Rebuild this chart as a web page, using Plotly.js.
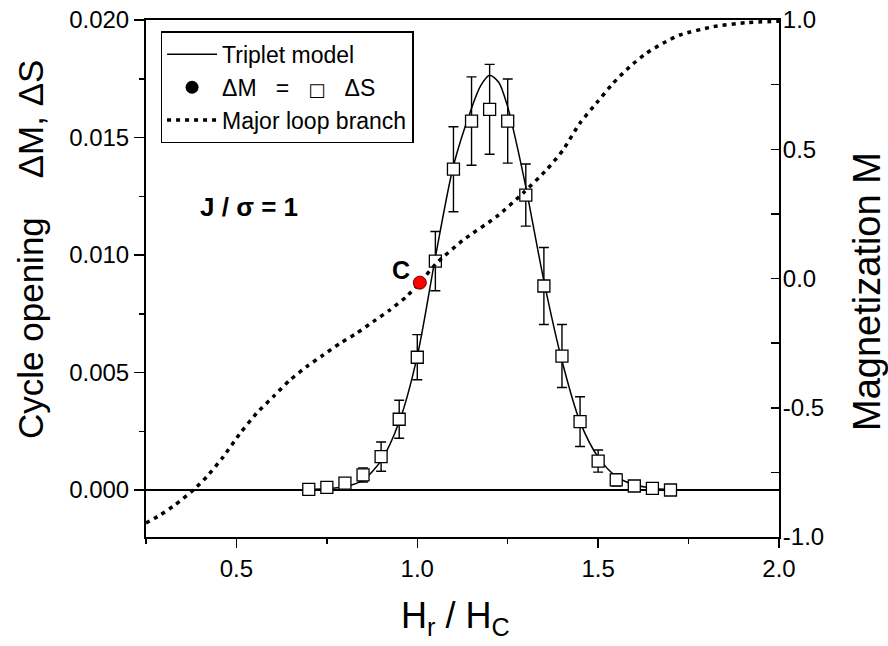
<!DOCTYPE html>
<html>
<head>
<meta charset="utf-8">
<script src="https://cdn.plot.ly/plotly-3.0.1.min.js"></script>
<style>html,body{margin:0;padding:0;background:#fff;}#chart{width:888px;height:646px;}</style>
</head>
<body>
<div id="chart"></div>
<script>
// Measured data (H_r / H_C) with cycle opening ΔM = ΔS
const dataX = [0.70,0.75,0.80,0.85,0.90,0.95,1.00,1.05,1.10,1.15,1.20,1.25,1.30,1.35,1.40,1.45,1.50,1.55,1.60,1.65,1.70];
const dataY = [0.00003,0.00011,0.00029,0.00064,0.00142,0.00301,0.00565,0.00974,0.01365,0.01570,0.01620,0.01570,0.01255,0.00868,0.00570,0.00291,0.00123,0.00043,0.00017,0.00007,0.00000];
const dataErr = [0.00017,0.00013,0.00017,0.00030,0.00062,0.00081,0.00096,0.00126,0.00181,0.00188,0.00191,0.00179,0.00132,0.00164,0.00134,0.00106,0.00047,0.00026,0.00017,0.00017,0.00010];

// Triplet model curve
const modelX = [0.70,0.75,0.80,0.85,0.90,0.95,1.00,1.05,1.10,1.15,1.175,1.20,1.225,1.25,1.275,1.30,1.35,1.40,1.45,1.50,1.55,1.60,1.65,1.70];
const modelY = [0.00002,0.00006,0.00014,0.00042,0.00125,0.00290,0.00570,0.00990,0.01380,0.01625,0.01720,0.01765,0.01735,0.01630,0.01470,0.01290,0.00890,0.00550,0.00290,0.00140,0.00058,0.00022,0.00008,0.00002];

// Major loop branch (magnetization M, right axis)
const loopX = [0.25,0.289,0.33,0.381,0.418,0.464,0.51,0.556,0.602,0.648,0.694,0.74,0.786,0.832,0.878,0.924,0.97,1.007,1.053,1.127,1.219,1.292,1.357,1.403,1.449,1.495,1.541,1.587,1.633,1.679,1.726,1.818,1.91,2.0];
const loopM = [-0.946,-0.915,-0.876,-0.818,-0.767,-0.689,-0.599,-0.521,-0.457,-0.393,-0.341,-0.296,-0.251,-0.212,-0.167,-0.122,-0.070,-0.016,0.059,0.149,0.239,0.330,0.420,0.497,0.600,0.678,0.755,0.819,0.871,0.910,0.942,0.974,0.990,0.995];

// Point C
const pointCX = [1.007];
const pointCM = [-0.016];

// Tick labels
const xTickVals = [0.5, 1.0, 1.5, 2.0];
const xTickText = ['0.5', '1.0', '1.5', '2.0'];
const yTickVals = [0, 0.005, 0.010, 0.015, 0.020];
const yTickText = ['0.000', '0.005', '0.010', '0.015', '0.020'];
const y2TickVals = [-1, -0.5, 0, 0.5, 1];
const y2TickText = ['-1.0', '-0.5', '0.0', '0.5', '1.0'];

const FONT = "Arial, 'Liberation Sans', Helvetica, sans-serif";

const traces = [
  {x: modelX, y: modelY, type: 'scatter', mode: 'lines', name: 'Triplet model',
   line: {color: 'black', width: 1.5, shape: 'spline', smoothing: 0.8}, yaxis: 'y'},
  {x: [null], y: [null], type: 'scatter', mode: 'markers',
   name: '\u0394M\u00a0\u00a0\u00a0=\u00a0\u00a0\u00a0<span style="font-family:\'DejaVu Sans\';font-size:18px;font-weight:bold;color:#000">\u25a1</span>\u00a0\u00a0\u00a0\u0394S',
   marker: {symbol: 'circle', color: 'black', size: 13}, yaxis: 'y'},
  {x: loopX, y: loopM, type: 'scatter', mode: 'lines', name: 'Major loop branch',
   line: {color: 'black', width: 3.5, dash: '4px,5px', shape: 'spline', smoothing: 0.6}, yaxis: 'y2'},
  {x: dataX, y: dataY, type: 'scatter', mode: 'markers', showlegend: false,
   marker: {symbol: 'square', size: 12, color: 'white', line: {color: 'black', width: 1.3}},
   error_y: {type: 'data', array: dataErr, visible: true, color: 'black', thickness: 1.4, width: 5},
   yaxis: 'y'},
  {x: pointCX, y: pointCM, type: 'scatter', mode: 'markers', showlegend: false,
   marker: {symbol: 'circle', size: 13, color: '#ff0000', line: {color: '#600', width: 1}}, yaxis: 'y2'}
];

const tickFont = {family: FONT, size: 24, color: 'black'};

const layout = {
  width: 888, height: 646,
  margin: {l: 146, r: 109, t: 20, b: 109, pad: 0},
  paper_bgcolor: 'white', plot_bgcolor: 'white',
  font: {family: FONT, color: 'black'},
  showlegend: true,
  legend: {x: 0.023, y: 0.978, xanchor: 'left', yanchor: 'top',
           bordercolor: 'black', borderwidth: 1.5, bgcolor: 'white',
           font: {family: FONT, size: 23, color: 'black'}, itemwidth: 50,
           tracegroupgap: 0},
  xaxis: {range: [0.25, 2.0], tickmode: 'array', tickvals: xTickVals, ticktext: xTickText,
          ticks: 'outside', ticklen: 9, tickwidth: 1.5, tickcolor: 'black',
          minor: {tick0: 0, dtick: 0.25, ticks: 'outside', ticklen: 5, tickwidth: 1.5, tickcolor: 'black'},
          showline: true, linecolor: 'black', linewidth: 2, mirror: true,
          showgrid: false, zeroline: false, tickfont: tickFont},
  yaxis: {range: [-0.002, 0.020], tickmode: 'array', tickvals: yTickVals, ticktext: yTickText,
          ticks: 'outside', ticklen: 10, tickwidth: 1.5, tickcolor: 'black',
          minor: {tick0: 0, dtick: 0.0025, ticks: 'outside', ticklen: 5, tickwidth: 1.5, tickcolor: 'black'},
          showline: true, linecolor: 'black', linewidth: 2,
          showgrid: false, zeroline: true, zerolinecolor: 'black', zerolinewidth: 2,
          tickfont: tickFont},
  yaxis2: {range: [-1, 1], tickmode: 'array', tickvals: y2TickVals, ticktext: y2TickText,
           overlaying: 'y', side: 'right',
           ticks: 'inside', ticklen: 8, tickwidth: 1.5, tickcolor: 'black', ticklabelstandoff: -3,
           minor: {tick0: 0, dtick: 0.25, ticks: 'inside', ticklen: 8, tickwidth: 1.5, tickcolor: 'black'},
           showline: true, linecolor: 'black', linewidth: 2,
           showgrid: false, zeroline: false, tickfont: tickFont},
  annotations: [
    {text: '<b>J / \u03c3 = 1</b>', x: 0.534, y: 0.01204, xref: 'x', yref: 'y',
     showarrow: false, font: {family: FONT, size: 26, color: 'black'}},
    {text: '<b>C</b>', x: 0.954, y: 0.00936, xref: 'x', yref: 'y',
     showarrow: false, font: {family: FONT, size: 25, color: 'black'}},
    {text: 'Cycle opening\u00a0\u00a0\u00a0\u00a0\u0394M, \u0394S', textangle: -90,
     x: (30 - 146) / 633, y: (537 - 250) / 517, xref: 'paper', yref: 'paper',
     xanchor: 'center', yanchor: 'middle', showarrow: false,
     font: {family: FONT, size: 35, color: 'black'}},
    {text: 'Magnetization M', textangle: -90,
     x: (867 - 146) / 633, y: (537 - 292) / 517, xref: 'paper', yref: 'paper',
     xanchor: 'center', yanchor: 'middle', showarrow: false,
     font: {family: FONT, size: 38, color: 'black'}},
    {text: 'H<sub>r</sub> / H<sub>C</sub>',
     x: (455 - 146) / 633, y: -(618 - 537) / 517, xref: 'paper', yref: 'paper',
     xanchor: 'center', yanchor: 'middle', showarrow: false,
     font: {family: FONT, size: 36, color: 'black'}}
  ]
};

Plotly.newPlot('chart', traces, layout, {displayModeBar: false, staticPlot: true});
</script>
</body>
</html>
